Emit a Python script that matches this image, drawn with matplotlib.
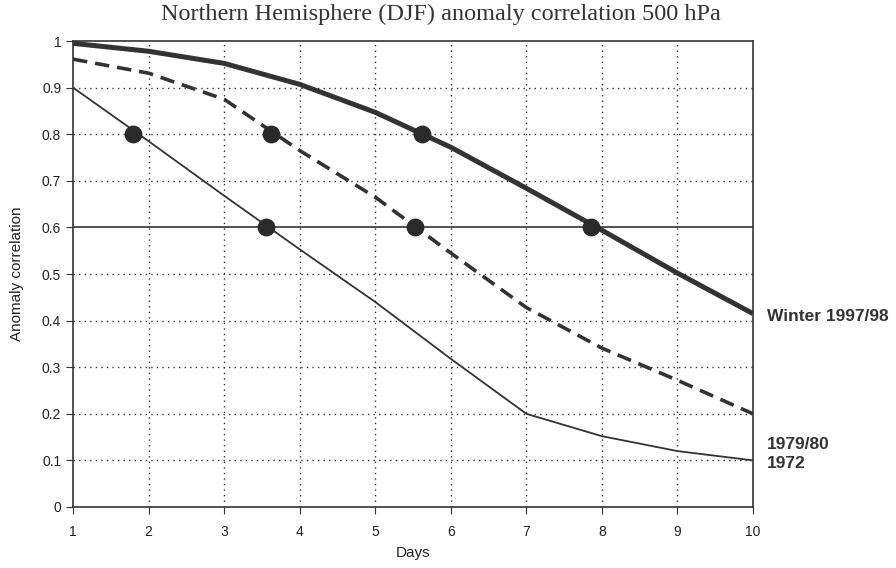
import matplotlib
matplotlib.use("Agg")
import matplotlib.pyplot as plt

# Datos
dias = [1, 2, 3, 4, 5, 6, 7, 8, 9, 10]
winter_9798 = [0.995, 0.978, 0.952, 0.907, 0.847, 0.772, 0.684, 0.594, 0.502, 0.415]
anio_7980 = [0.961, 0.931, 0.875, 0.765, 0.665, 0.545, 0.428, 0.341, 0.272, 0.2]
anio_1972 = [0.9, 0.785, 0.668, 0.553, 0.44, 0.318, 0.2, 0.152, 0.12, 0.1]

# Puntos marcados (dia, correlacion)
marcas_x = [1.8, 3.55, 3.62, 5.52, 5.62, 7.85]
marcas_y = [0.8, 0.6, 0.8, 0.6, 0.8, 0.6]

etiquetas = ["Winter 1997/98", "1979/80", "1972"]
finales = [winter_9798[-1], anio_7980[-1], anio_1972[-1]]

y_ticks = [0, 0.1, 0.2, 0.3, 0.4, 0.5, 0.6, 0.7, 0.8, 0.9, 1]
y_labels = ["0", "0.1", "0.2", "0.3", "0.4", "0.5", "0.6", "0.7", "0.8", "0.9", "1"]

fig = plt.figure(figsize=(8.96, 5.68), dpi=100)
ax = fig.add_axes([0.0815, 0.1074, 0.7589, 0.8204])

col = "#333333"

# Rejilla punteada
for x in dias[1:-1]:
    ax.axvline(x, color=col, lw=1.0, ls=(0, (1, 3)), zorder=1)
for y in y_ticks[1:-1]:
    if y == 0.6:
        continue
    ax.axhline(y, color=col, lw=1.0, ls=(0, (1, 3)), zorder=1)
ax.axhline(0.6, color=col, lw=1.2, zorder=1)

ax.plot(dias, winter_9798, color=col, lw=3.6, solid_capstyle="butt", zorder=3)
ax.plot(dias, anio_7980, color=col, lw=2.6, ls=(0, (4, 2.2)), zorder=3)
ax.plot(dias, anio_1972, color=col, lw=1.3, zorder=3)
ax.scatter(marcas_x, marcas_y, s=140, color="#2a2a2a", zorder=4)

ax.set_xlim(1, 10)
ax.set_ylim(0, 1)
ax.set_xticks(dias)
ax.set_xticklabels([str(d) for d in dias], fontsize=10, family="Liberation Sans")
ax.set_yticks(y_ticks)
ax.set_yticklabels(y_labels, fontsize=10, family="Liberation Sans")
ax.tick_params(direction="out", length=5, color=col, labelcolor="#222222")
ax.tick_params(axis="x", pad=8)
for s in ax.spines.values():
    s.set_color(col)
    s.set_linewidth(1.2)

ax.set_xlabel("Days", fontsize=11, family="Liberation Sans", color="#222222", labelpad=5)
ax.set_ylabel("Anomaly correlation", fontsize=11, family="Liberation Sans", color="#222222", labelpad=13)
ax.set_title("Northern Hemisphere (DJF) anomaly correlation 500 hPa",
             fontsize=17.5, family="Liberation Serif", color="#333333", pad=15, x=0.541)

offsets = [-0.007, -0.065, -0.006]
for lab, yv, dy in zip(etiquetas, finales, offsets):
    ax.text(10.18, yv + dy, lab, fontsize=12.5, fontweight="bold", family="Liberation Sans",
            color="#333333", va="center", ha="left", clip_on=False)

fig.savefig("out.png", dpi=100, facecolor="white")
